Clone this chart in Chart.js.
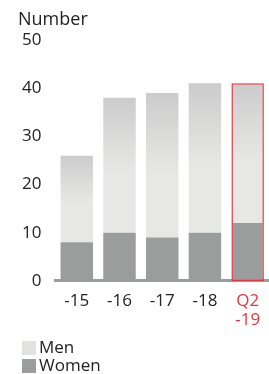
<!DOCTYPE html>
<html>
<head>
<meta charset="utf-8">
<script src="https://cdn.jsdelivr.net/npm/chart.js@4"></script>
<style>
  html, body { margin: 0; padding: 0; background: #fff; }
  body { width: 269px; height: 374px; position: relative; overflow: hidden; font-family: "Open Sans", sans-serif; color: #222; }
  #wrap { position: absolute; left: 0; top: 0; width: 269px; height: 374px; }
  #unit { position: absolute; left: 18px; top: 6px; font-size: 18px; }
  .legend { position: absolute; left: 22px; font-size: 17px; line-height: 18px; }
  .legend span { display: inline-block; width: 14px; height: 14px; vertical-align: -2px; margin-right: 3px; }
</style>
</head>
<body>
<div id="wrap"><canvas id="chart"></canvas></div>
<div id="unit">Number</div>
<div class="legend" style="top:338px"><span style="background:#e2e3e1"></span>Men</div>
<div class="legend" style="top:356px"><span style="background:#9a9d9c"></span>Women</div>
<script>
const categories = [['-15'], ['-16'], ['-17'], ['-18'], ['Q2', '-19']]
const women = [8, 10, 9, 10, 12]
const men = [18, 28, 30, 31, 29]
const yTicks = [0, 10, 20, 30, 40, 50]

const highlight = categories.length - 1
const red = '#e8343c'

function menFill(c) {
  const chart = c.chart
  const area = chart.chartArea
  if (!area) return '#e2e3e1'
  const y = chart.scales.y
  const i = c.dataIndex
  const top = y.getPixelForValue(women[i] + men[i])
  const bottom = y.getPixelForValue(women[i])
  const g = chart.ctx.createLinearGradient(0, top, 0, bottom)
  g.addColorStop(0, '#cbcccb')
  g.addColorStop(0.55, '#e7e8e6')
  g.addColorStop(1, '#e7e8e6')
  return g
}

new Chart(document.getElementById('chart'), {
  type: 'bar',
  data: {
    labels: categories,
    datasets: [
      {
        label: 'Women',
        data: women,
        backgroundColor: '#9a9d9c',
        borderColor: (c) => c.dataIndex === highlight ? red : 'rgba(0,0,0,0)',
        borderWidth: (c) => c.dataIndex === highlight ? 1.5 : 0,
        borderSkipped: 'top',
        barPercentage: 0.76,
        categoryPercentage: 1,
      },
      {
        label: 'Men',
        data: men,
        backgroundColor: menFill,
        borderColor: (c) => c.dataIndex === highlight ? red : 'rgba(0,0,0,0)',
        borderWidth: (c) => c.dataIndex === highlight ? 1.5 : 0,
        borderSkipped: 'bottom',
        barPercentage: 0.76,
        categoryPercentage: 1,
      }
    ]
  },
  options: {
    responsive: true,
    maintainAspectRatio: false,
    animation: false,
    layout: { padding: { top: 40, right: 0, bottom: 42, left: 16 } },
    scales: {
      x: {
        stacked: true,
        grid: { display: false },
        border: { color: '#9a9d9c', width: 3 },
        ticks: {
          color: (c) => c.index === highlight ? red : '#222',
          font: { family: 'Open Sans', size: 17, lineHeight: 1.15 },
          padding: 2,
          maxRotation: 0,
        }
      },
      y: {
        stacked: true,
        min: 0,
        max: 50,
        afterBuildTicks: (axis) => { axis.ticks = yTicks.map(v => ({ value: v })) },
        grid: { display: false },
        border: { display: false },
        ticks: {
          color: '#222',
          font: { family: 'Open Sans', size: 17 },
          padding: 6,
        }
      }
    },
    plugins: {
      legend: { display: false },
      tooltip: { enabled: false }
    }
  }
})
</script>
</body>
</html>
